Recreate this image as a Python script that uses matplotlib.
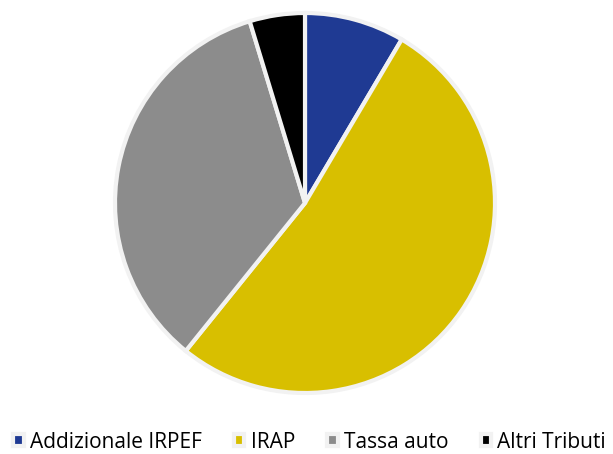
import matplotlib.pyplot as plt

labels = ['Addizionale IRPEF', 'IRAP', 'Tassa auto', 'Altri Tributi']
values = [8.5, 52.3, 34.5, 4.7]
colors = ['#1F3A93', '#D8BF00', '#8C8C8C', '#000000']

fig = plt.figure(figsize=(6.13, 4.54), dpi=100)
ax = fig.add_axes([305/613 - 190/613, 1 - 203/454 - 190/454, 380/613, 380/454])

wedges, _ = ax.pie(values, colors=colors, startangle=90, counterclock=False,
                   radius=1.0,
                   wedgeprops=dict(edgecolor='#F2F2F2', linewidth=3))
ax.set_xlim(-1, 1)
ax.set_ylim(-1, 1)
ax.set_aspect('auto')
ax.axis('off')

fig.legend(wedges, labels, loc='center', bbox_to_anchor=(0.505, 1 - 442/454),
           ncol=4, frameon=False, handlelength=0.5, handleheight=0.5,
           handletextpad=0.3, columnspacing=1.55, borderpad=0.1,
           prop={'family': 'Open Sans', 'size': 15})

fig.savefig('out.png', dpi=100)
